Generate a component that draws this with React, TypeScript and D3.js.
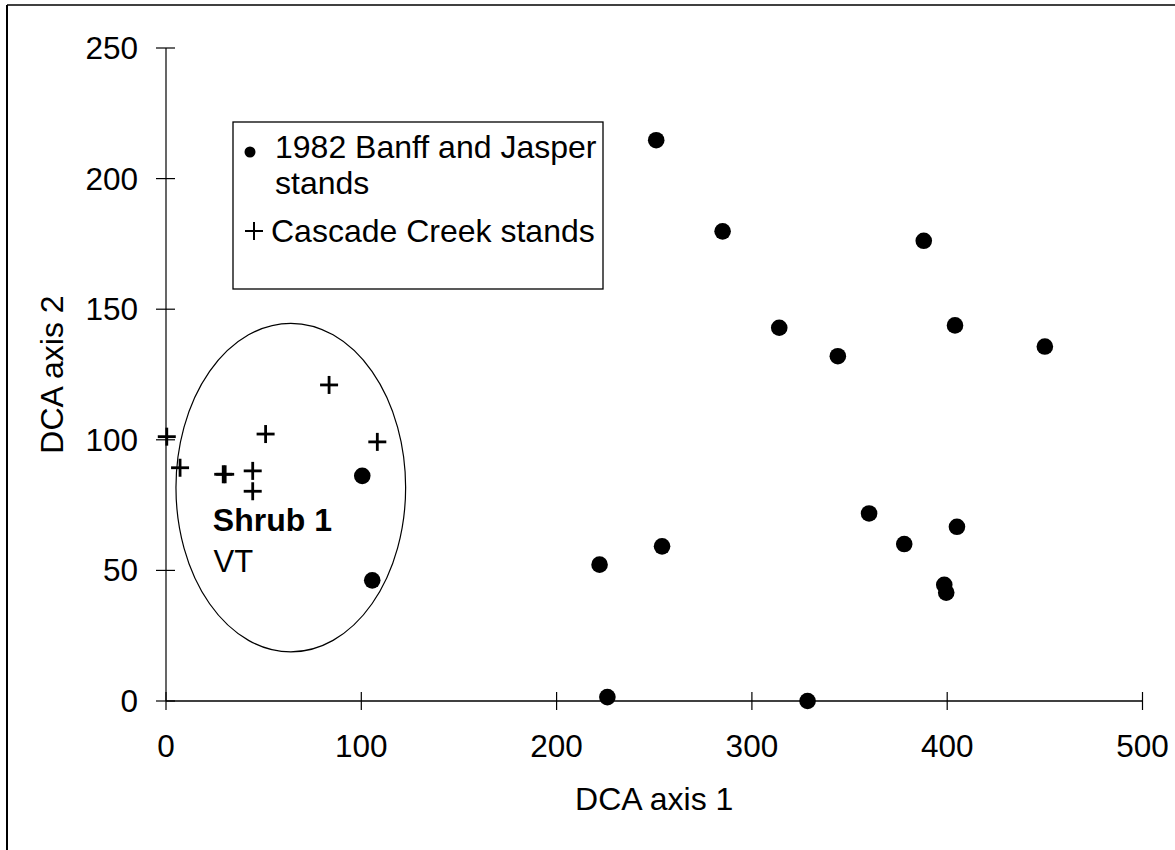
import React from "react";
import { scaleLinear } from "d3";

// 1982 Banff and Jasper stands (DCA axis 1, DCA axis 2)
const banffX = [251, 285, 314, 344, 404, 450, 388, 360, 405, 378, 398.5, 399.5, 328.5, 226, 222, 254, 100.5, 105.6];
const banffY = [214.7, 179.8, 142.9, 132, 143.8, 135.7, 176.2, 71.8, 66.7, 60.1, 44.5, 41.5, 0, 1.5, 52.2, 59.2, 86.2, 46.2];

// Cascade Creek stands
const cascadeX = [83.5, 51, 108.2, 0.4, 7.2, 29.3, 30.3, 44.4, 44.4];
const cascadeY = [121, 102.2, 99.2, 101.2, 89.3, 86.8, 86.8, 88.1, 80.3];

const xTicks = [0, 100, 200, 300, 400, 500];
const yTicks = [0, 50, 100, 150, 200, 250];

// Shrub 1 group outline (centre and radii in data units)
const shrubEllipse = { cx: 63.9, cy: 81.7, rx: 58.8, ry: 62.9 };

const FONT = "'Liberation Sans', Arial, Helvetica, sans-serif";

export default function App() {
  const width = 1175;
  const height = 850;

  const x = scaleLinear().domain([0, 500]).range([166, 1142.5]);
  const y = scaleLinear().domain([0, 250]).range([701, 48]);

  const cross = (cx, cy, half, sw, key) => (
    <g key={key} stroke="#000" strokeWidth={sw}>
      <line x1={cx - half} x2={cx + half} y1={cy} y2={cy} />
      <line x1={cx} x2={cx} y1={cy - half} y2={cy + half} />
    </g>
  );

  return (
    <div style={{ position: "absolute", left: 0, top: 0 }}>
      <svg width={width} height={height} style={{ display: "block", background: "#fff" }}>
        {/* outer frame */}
        <line x1={7} x2={7} y1={5} y2={height} stroke="#000" strokeWidth={2} />
        <line x1={7} x2={width} y1={5} y2={5} stroke="#000" strokeWidth={1.5} />

        {/* axes */}
        <line x1={x(0)} x2={x(500)} y1={y(0)} y2={y(0)} stroke="#000" strokeWidth={1.5} />
        <line x1={x(0)} x2={x(0)} y1={y(0)} y2={y(250)} stroke="#000" strokeWidth={1.2} />

        {xTicks.map((t) => (
          <g key={"xt" + t}>
            <line x1={x(t)} x2={x(t)} y1={y(0) - 9} y2={y(0) + 9} stroke="#000" strokeWidth={1.2} />
            <text
              x={x(t)}
              y={757}
              textAnchor="middle"
              fontFamily={FONT}
              fontSize={31.5}
              fill="#000"
            >
              {t}
            </text>
          </g>
        ))}

        {yTicks.map((t) => (
          <g key={"yt" + t}>
            <line x1={x(0) - 10} x2={x(0) + 9} y1={y(t)} y2={y(t)} stroke="#000" strokeWidth={1.2} />
            <text
              x={138}
              y={y(t) + 11}
              textAnchor="end"
              fontFamily={FONT}
              fontSize={31.5}
              fill="#000"
            >
              {t}
            </text>
          </g>
        ))}

        <text
          x={(x(0) + x(500)) / 2}
          y={810}
          textAnchor="middle"
          fontFamily={FONT}
          fontSize={32}
          fill="#000"
        >
          DCA axis 1
        </text>
        <text
          transform={`translate(63, ${(y(0) + y(250)) / 2}) rotate(-90)`}
          textAnchor="middle"
          fontFamily={FONT}
          fontSize={32}
          fill="#000"
        >
          DCA axis 2
        </text>

        {/* shrub group */}
        <ellipse
          cx={x(shrubEllipse.cx)}
          cy={y(shrubEllipse.cy)}
          rx={x(shrubEllipse.rx) - x(0)}
          ry={y(0) - y(shrubEllipse.ry)}
          fill="none"
          stroke="#000"
          strokeWidth={1.2}
        />
        <text x={x(24)} y={y(65.1)} fontFamily={FONT} fontSize={32} fontWeight="bold" fill="#000">
          Shrub 1
        </text>
        <text x={x(24.3)} y={y(49.5)} fontFamily={FONT} fontSize={31} fill="#000">
          VT
        </text>

        {/* points */}
        {banffX.map((v, i) => (
          <circle key={"b" + i} cx={x(v)} cy={y(banffY[i])} r={8.3} fill="#000" />
        ))}
        {cascadeX.map((v, i) => cross(x(v), y(cascadeY[i]), 9, 2.8, "c" + i))}

        {/* legend */}
        <rect x={233} y={122} width={370} height={167} fill="#fff" stroke="#000" strokeWidth={1.3} />
        <circle cx={250} cy={152} r={5.5} fill="#000" />
        <text x={275} y={158} fontFamily={FONT} fontSize={32} fill="#000">
          1982 Banff and Jasper
        </text>
        <text x={275} y={194} fontFamily={FONT} fontSize={32} fill="#000">
          stands
        </text>
        {cross(254, 231, 9, 2, "leg")}
        <text x={271} y={242} fontFamily={FONT} fontSize={32} fill="#000">
          Cascade Creek stands
        </text>
      </svg>
    </div>
  );
}
